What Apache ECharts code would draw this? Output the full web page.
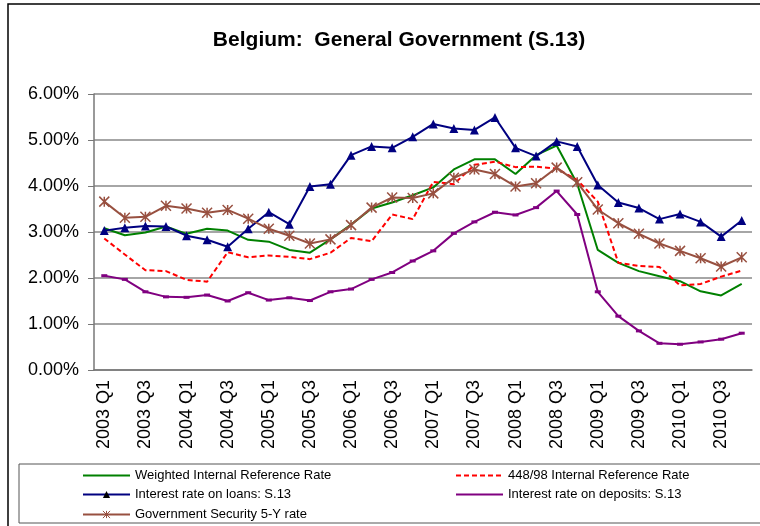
<!DOCTYPE html>
<html>
<head>
<meta charset="utf-8">
<script src="https://cdn.jsdelivr.net/npm/echarts@6/dist/echarts.min.js"></script>
<style>
  html, body { margin: 0; padding: 0; background: #fff; }
  #chart { width: 760px; height: 526px; }
</style>
</head>
<body>
<div id="chart"></div>
<script>
const categories = [
  '2003 Q1', '2003 Q2', '2003 Q3', '2003 Q4', '2004 Q1', '2004 Q2', '2004 Q3', '2004 Q4',
  '2005 Q1', '2005 Q2', '2005 Q3', '2005 Q4', '2006 Q1', '2006 Q2', '2006 Q3', '2006 Q4',
  '2007 Q1', '2007 Q2', '2007 Q3', '2007 Q4', '2008 Q1', '2008 Q2', '2008 Q3', '2008 Q4',
  '2009 Q1', '2009 Q2', '2009 Q3', '2009 Q4', '2010 Q1', '2010 Q2', '2010 Q3', '2010 Q4'
]
const weightedRate = [3.08, 2.93, 2.99, 3.12, 2.96, 3.07, 3.03, 2.83, 2.79, 2.61, 2.55, 2.84,
  3.16, 3.51, 3.64, 3.80, 3.97, 4.36, 4.58, 4.58, 4.26, 4.67, 4.88, 4.05,
  2.61, 2.33, 2.15, 2.04, 1.93, 1.71, 1.62, 1.87]
const rate44898 = [2.86, 2.51, 2.17, 2.15, 1.96, 1.92, 2.56, 2.45, 2.49, 2.46, 2.41, 2.55,
  2.87, 2.80, 3.38, 3.28, 4.09, 4.04, 4.46, 4.53, 4.41, 4.42, 4.38, 4.13,
  3.66, 2.33, 2.26, 2.24, 1.84, 1.87, 2.03, 2.16]
const loansRate = [3.03, 3.09, 3.13, 3.12, 2.92, 2.83, 2.68, 3.07, 3.43, 3.17, 3.99, 4.04,
  4.67, 4.86, 4.83, 5.07, 5.35, 5.25, 5.22, 5.49, 4.83, 4.65, 4.97, 4.86,
  4.02, 3.64, 3.52, 3.28, 3.39, 3.22, 2.90, 3.25]
const depositsRate = [2.05, 1.97, 1.70, 1.59, 1.58, 1.63, 1.50, 1.68, 1.52, 1.57, 1.51, 1.70,
  1.76, 1.97, 2.12, 2.37, 2.59, 2.97, 3.22, 3.43, 3.37, 3.53, 3.89, 3.38,
  1.70, 1.17, 0.85, 0.58, 0.56, 0.61, 0.67, 0.80]
const govSecurity5y = [3.66, 3.31, 3.33, 3.57, 3.51, 3.42, 3.48, 3.29, 3.07, 2.92, 2.75, 2.84,
  3.15, 3.53, 3.75, 3.74, 3.84, 4.18, 4.36, 4.26, 3.99, 4.06, 4.40, 4.08,
  3.49, 3.19, 2.96, 2.75, 2.59, 2.43, 2.25, 2.45]

const names = [
  'Weighted Internal Reference Rate',
  '448/98 Internal Reference Rate',
  'Interest rate on loans: S.13',
  'Interest rate on deposits: S.13',
  'Government Security 5-Y rate'
]

const font = "'Liberation Sans', Arial, sans-serif"
const brown = '#985040'
const star = 'path://M0,0L10,10M10,0L0,10M5,0L5,10'

// one legend per entry so they sit in the two Excel-style columns
const legendAt = (name, left, top, itemStyle) => ({
  data: [name], left, top, padding: 0, itemWidth: 47, itemHeight: 9,
  itemStyle,
  textStyle: { fontFamily: font, fontSize: 13, color: '#000' }
})

const chart = echarts.init(document.getElementById('chart'))
chart.setOption({
  animation: false,
  backgroundColor: '#fff',
  textStyle: { fontFamily: font },
  title: {
    text: 'Belgium:  General Government (S.13)',
    left: 394, top: 25, textAlign: 'center',
    textStyle: { fontFamily: font, fontSize: 21, fontWeight: 'bold', color: '#000' }
  },
  graphic: [
    { type: 'rect', shape: { x: 8, y: 4, width: 800, height: 600 }, style: { fill: 'none', stroke: '#000', lineWidth: 1.5 }, silent: true },
    { type: 'rect', shape: { x: 19, y: 464, width: 800, height: 59 }, style: { fill: 'none', stroke: '#555', lineWidth: 1 }, silent: true }
  ],
  legend: [
    legendAt(names[0], 82, 469, { opacity: 0 }),
    legendAt(names[1], 455, 469, { opacity: 0 }),
    legendAt(names[2], 82, 488),
    legendAt(names[3], 455, 488, { opacity: 0 }),
    legendAt(names[4], 82, 508, { borderColor: brown, borderWidth: 1 })
  ],
  grid: { left: 94, right: 8, top: 94, bottom: 156 },
  xAxis: {
    type: 'category',
    data: categories,
    boundaryGap: true,
    axisLine: { lineStyle: { color: '#777', width: 1.5 } },
    axisTick: { interval: 0, length: 6, lineStyle: { color: '#777' } },
    axisLabel: { interval: 1, rotate: 90, fontSize: 18, color: '#000', margin: 10, fontFamily: font }
  },
  yAxis: {
    type: 'value',
    min: 0, max: 6, interval: 1,
    axisLine: { show: true, lineStyle: { color: '#777', width: 1.5 } },
    axisTick: { show: true, length: 6, lineStyle: { color: '#777' } },
    axisLabel: { fontSize: 18, color: '#000', margin: 15, fontFamily: font, formatter: v => v.toFixed(2) + '%' },
    splitLine: { lineStyle: { color: '#888', width: 1.5 } }
  },
  series: [
    {
      name: names[0], type: 'line', data: weightedRate, symbol: 'none',
      lineStyle: { color: '#008000', width: 2 }, itemStyle: { color: '#008000' }
    },
    {
      name: names[1], type: 'line', data: rate44898, symbol: 'none',
      lineStyle: { color: '#ff0000', width: 2, type: [5, 3] }, itemStyle: { color: '#ff0000' }
    },
    {
      name: names[2], type: 'line', data: loansRate, symbol: 'triangle', symbolSize: 9,
      lineStyle: { color: '#000080', width: 2 }, itemStyle: { color: '#000080' }
    },
    {
      name: names[3], type: 'line', data: depositsRate, symbol: 'rect', symbolSize: [6, 3],
      lineStyle: { color: '#800080', width: 2 }, itemStyle: { color: '#800080' }
    },
    {
      name: names[4], type: 'line', data: govSecurity5y, symbol: star, symbolSize: 10,
      lineStyle: { color: brown, width: 2 },
      itemStyle: { color: brown, borderColor: brown, borderWidth: 1.5 }
    }
  ]
})
</script>
</body>
</html>
